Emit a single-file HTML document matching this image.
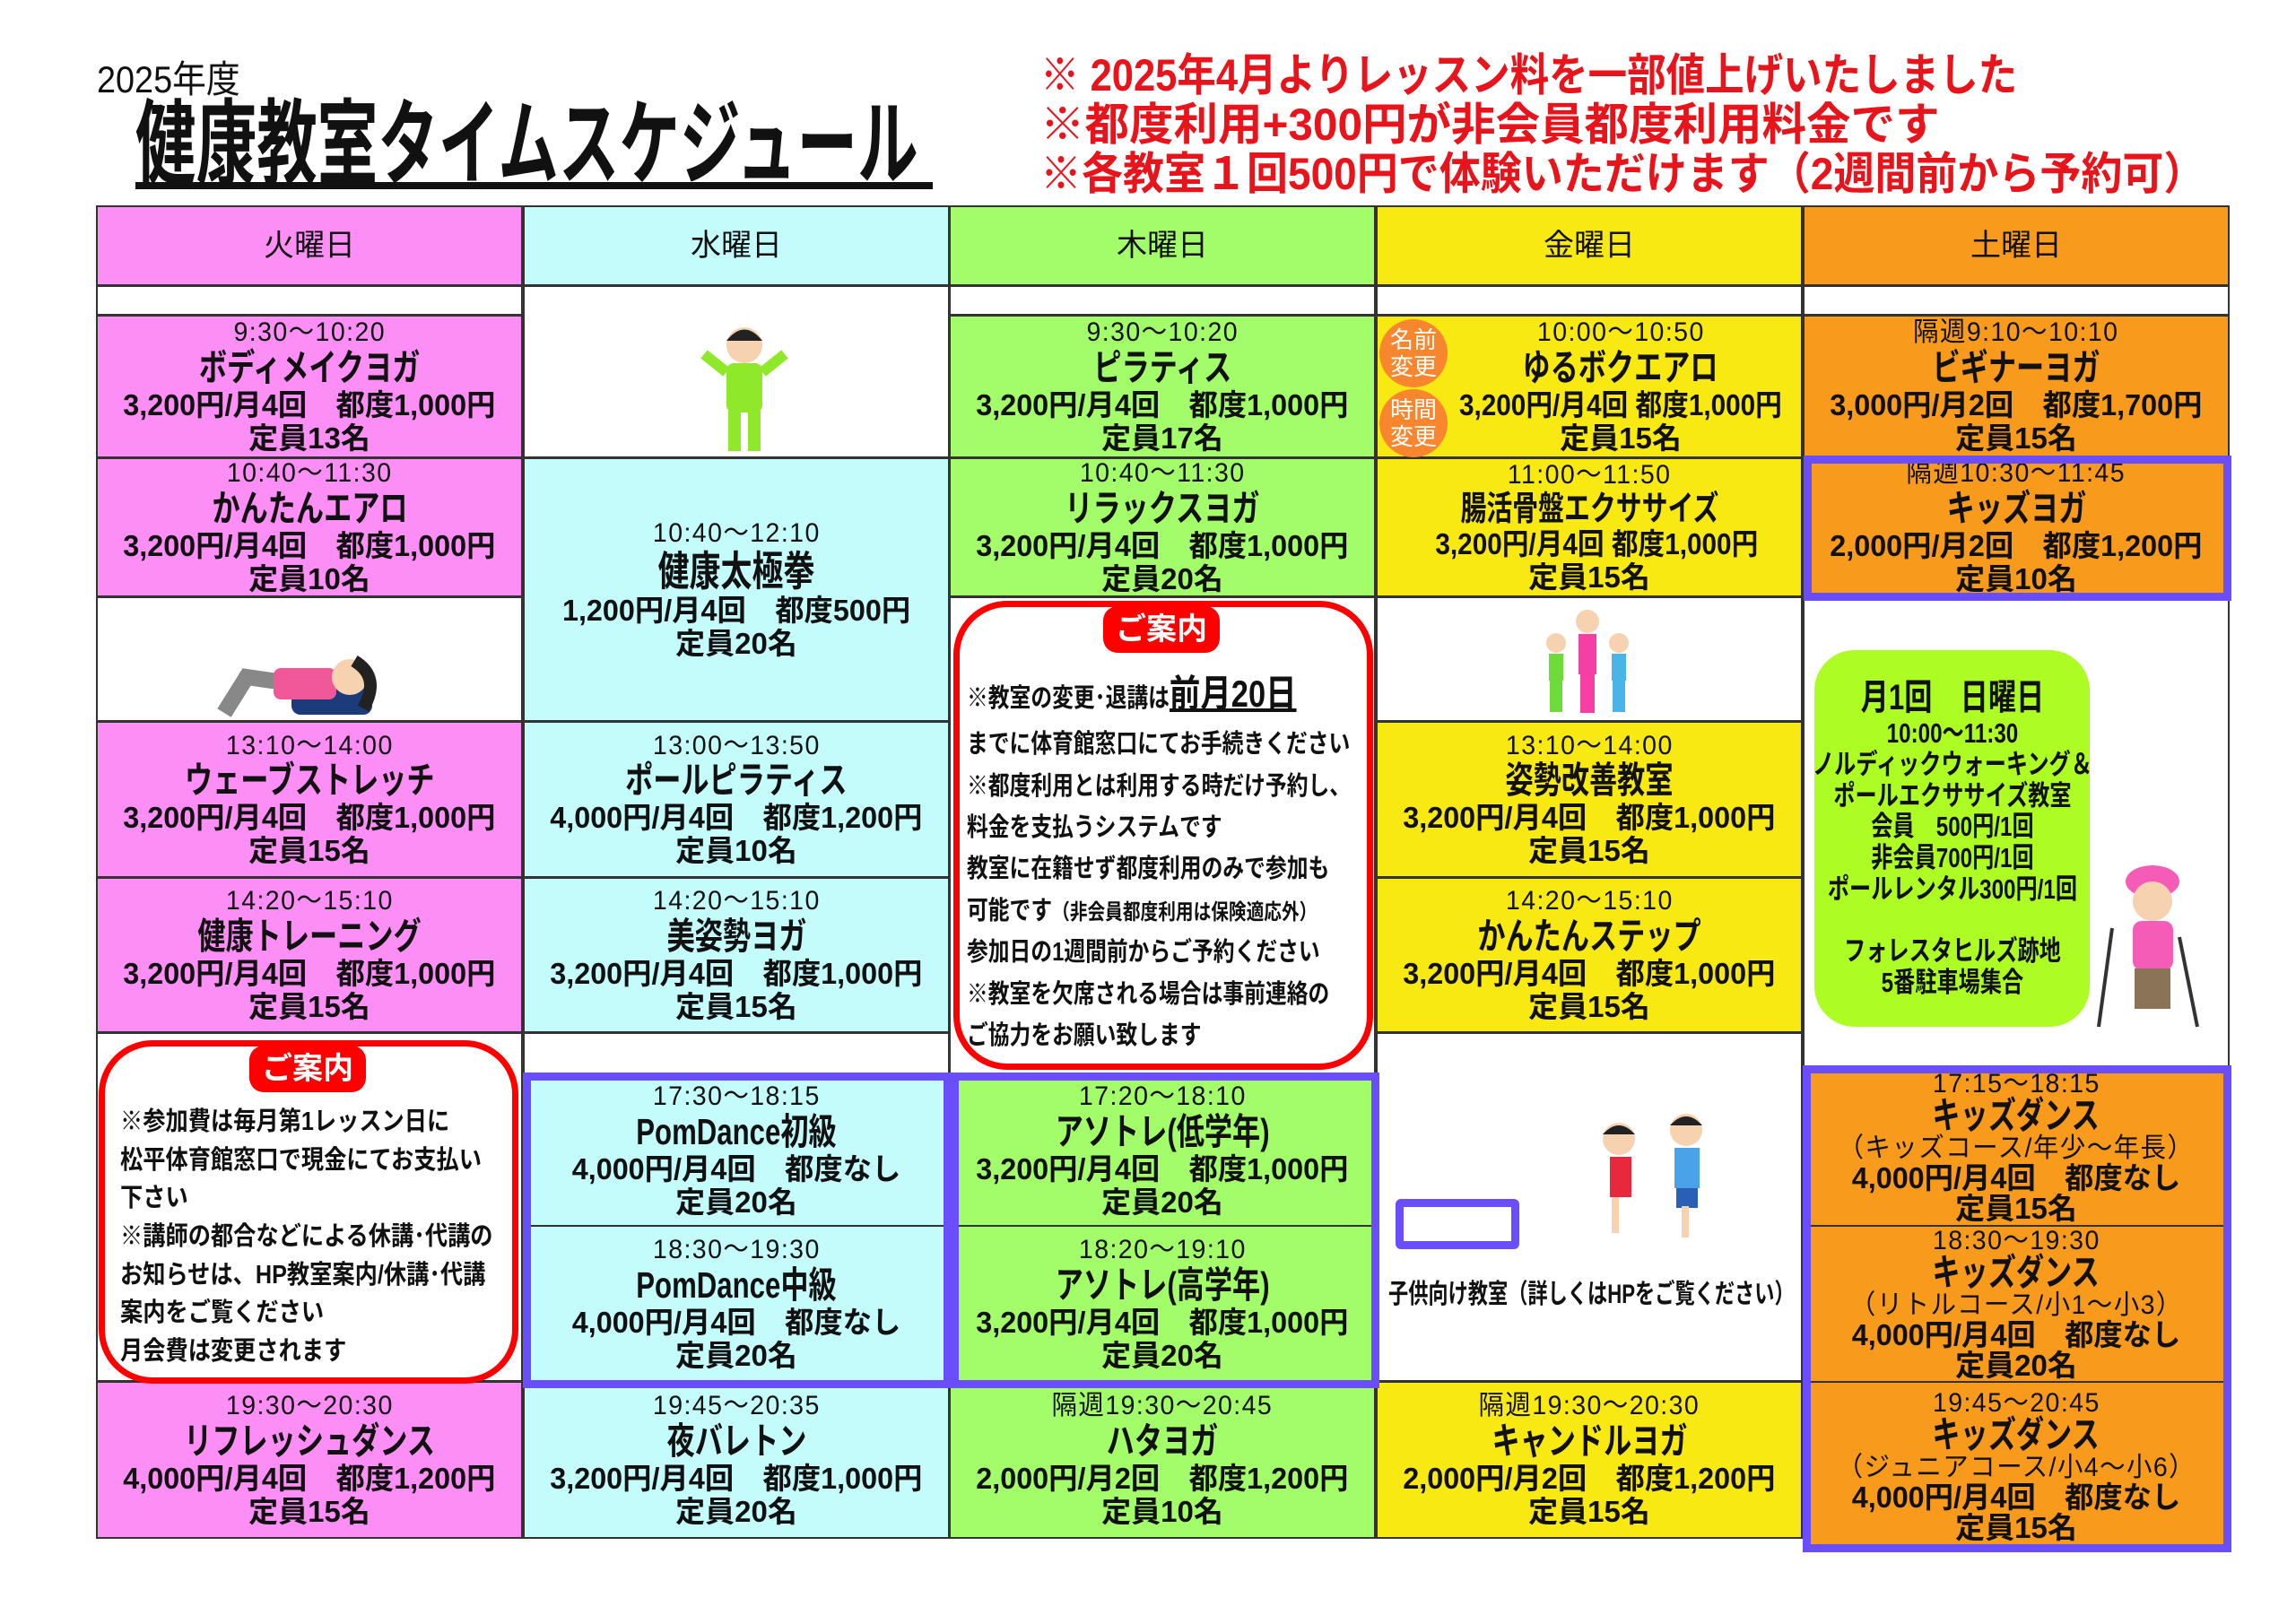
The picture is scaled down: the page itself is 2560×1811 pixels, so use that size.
<!DOCTYPE html>
<html><head><meta charset="utf-8"><style>
*{margin:0;padding:0;box-sizing:border-box}
body{width:2560px;height:1811px;background:#fff;position:relative;overflow:hidden;font-family:"Liberation Sans","Noto Sans CJK JP",sans-serif;color:#111}
.a{position:absolute}
.c{position:absolute;display:flex;flex-direction:column;justify-content:center;align-items:center;border:2px solid #333;text-align:center;line-height:1.12;overflow:hidden}
.s{white-space:nowrap;display:flex;flex-direction:column;align-items:center}
.s span{display:inline-block;white-space:nowrap}
.tm{font-size:30px;transform:scaleX(.95);letter-spacing:1.5px}
.nm{font-size:41px;font-weight:bold;transform:scaleX(.76)}
.pr{font-size:33px;font-weight:bold;transform:scaleX(.98)}
.cp{font-size:33px;font-weight:bold;transform:scaleX(1)}
.pk{background:#fd8ef6}.cy{background:#c4fcfc}.gr{background:#a3fd6b}.ye{background:#f8e912}.or{background:#f89b1c}.wh{background:#fff}
.hd{font-size:34px}
.pb{position:absolute;border:9px solid #6a4dfb}
.red{position:absolute;border:7px solid #f00;border-radius:60px;background:#fff}
.lbl{position:absolute;background:#f00;color:#fff;font-size:34px;border-radius:16px;text-align:center;font-weight:bold}
.nt{position:absolute;font-size:29px;line-height:1.6;white-space:nowrap;transform-origin:left top;transform:scaleX(.82);font-weight:bold}
.rl{position:absolute;left:1160px;color:#e8141c;font-size:50px;font-weight:bold;white-space:nowrap;transform-origin:left}
</style></head><body>
<div class="a" style="left:108px;top:55px;font-size:42px;transform:scaleX(.9);transform-origin:left">2025年度</div>
<div class="a" style="left:151px;top:110px;font-size:104px;font-weight:bold;white-space:nowrap;transform:scaleX(.65);transform-origin:left;line-height:104px">健康教室タイムスケジュール</div>
<div class="a" style="left:151px;top:203px;width:889px;height:8px;background:#111"></div>
<div class="rl" style="top:44px;transform:scaleX(.87)">※ 2025年4月よりレッスン料を一部値上げいたしました</div>
<div class="rl" style="top:99px;transform:scaleX(.99)">※都度利用+300円が非会員都度利用料金です</div>
<div class="rl" style="top:154px;transform:scaleX(.92)">※各教室１回500円で体験いただけます（2週間前から予約可）</div>

<!-- headers -->
<div class="c pk hd" style="left:107px;top:229px;width:476px;height:90px">火曜日</div>
<div class="c cy hd" style="left:583px;top:229px;width:476px;height:90px">水曜日</div>
<div class="c gr hd" style="left:1058px;top:229px;width:476px;height:90px">木曜日</div>
<div class="c ye hd" style="left:1534px;top:229px;width:476px;height:90px">金曜日</div>
<div class="c or hd" style="left:2010px;top:229px;width:476px;height:90px">土曜日</div>
<div class="c wh" style="left:107px;top:318px;width:476px;height:34px"></div>
<div class="c wh" style="left:583px;top:318px;width:476px;height:193px"></div>
<div class="c wh" style="left:1058px;top:318px;width:476px;height:34px"></div>
<div class="c wh" style="left:1534px;top:318px;width:476px;height:34px"></div>
<div class="c wh" style="left:2010px;top:318px;width:476px;height:34px"></div>

<!-- Tue -->
<div class="c pk" style="left:107px;top:351px;width:476px;height:160px"><div class="s"><span class="tm">9:30～10:20</span><span class="nm">ボディメイクヨガ</span><span class="pr">3,200円/月4回　都度1,000円</span><span class="cp">定員13名</span></div></div>
<div class="c pk" style="left:107px;top:510px;width:476px;height:156px"><div class="s"><span class="tm">10:40～11:30</span><span class="nm">かんたんエアロ</span><span class="pr">3,200円/月4回　都度1,000円</span><span class="cp">定員10名</span></div></div>
<div class="c wh" style="left:107px;top:665px;width:476px;height:140px"></div>
<div class="c pk" style="left:107px;top:804px;width:476px;height:175px"><div class="s"><span class="tm">13:10～14:00</span><span class="nm">ウェーブストレッチ</span><span class="pr">3,200円/月4回　都度1,000円</span><span class="cp">定員15名</span></div></div>
<div class="c pk" style="left:107px;top:978px;width:476px;height:174px"><div class="s"><span class="tm">14:20～15:10</span><span class="nm">健康トレーニング</span><span class="pr">3,200円/月4回　都度1,000円</span><span class="cp">定員15名</span></div></div>
<div class="c wh" style="left:107px;top:1151px;width:476px;height:390px"></div>
<div class="c pk" style="left:107px;top:1540px;width:476px;height:176px"><div class="s"><span class="tm">19:30～20:30</span><span class="nm">リフレッシュダンス</span><span class="pr">4,000円/月4回　都度1,200円</span><span class="cp">定員15名</span></div></div>

<!-- Wed -->
<div class="c cy" style="left:583px;top:510px;width:476px;height:295px"><div class="s"><span class="tm">10:40～12:10</span><span class="nm" style="font-size:46px">健康太極拳</span><span class="pr">1,200円/月4回　都度500円</span><span class="cp">定員20名</span></div></div>
<div class="c cy" style="left:583px;top:804px;width:476px;height:175px"><div class="s"><span class="tm">13:00～13:50</span><span class="nm">ポールピラティス</span><span class="pr">4,000円/月4回　都度1,200円</span><span class="cp">定員10名</span></div></div>
<div class="c cy" style="left:583px;top:978px;width:476px;height:174px"><div class="s"><span class="tm">14:20～15:10</span><span class="nm">美姿勢ヨガ</span><span class="pr">3,200円/月4回　都度1,000円</span><span class="cp">定員15名</span></div></div>
<div class="c wh" style="left:583px;top:1151px;width:476px;height:50px"></div>
<div class="c cy" style="left:583px;top:1198px;width:476px;height:170px"><div class="s"><span class="tm">17:30～18:15</span><span class="nm">PomDance初級</span><span class="pr">4,000円/月4回　都度なし</span><span class="cp">定員20名</span></div></div>
<div class="c cy" style="left:583px;top:1366px;width:476px;height:176px"><div class="s"><span class="tm">18:30～19:30</span><span class="nm">PomDance中級</span><span class="pr">4,000円/月4回　都度なし</span><span class="cp">定員20名</span></div></div>
<div class="c cy" style="left:583px;top:1540px;width:476px;height:176px"><div class="s"><span class="tm">19:45～20:35</span><span class="nm">夜バレトン</span><span class="pr">3,200円/月4回　都度1,000円</span><span class="cp">定員20名</span></div></div>

<!-- Thu -->
<div class="c gr" style="left:1058px;top:351px;width:476px;height:160px"><div class="s"><span class="tm">9:30～10:20</span><span class="nm">ピラティス</span><span class="pr">3,200円/月4回　都度1,000円</span><span class="cp">定員17名</span></div></div>
<div class="c gr" style="left:1058px;top:510px;width:476px;height:156px"><div class="s"><span class="tm">10:40～11:30</span><span class="nm">リラックスヨガ</span><span class="pr">3,200円/月4回　都度1,000円</span><span class="cp">定員20名</span></div></div>
<div class="c wh" style="left:1058px;top:665px;width:476px;height:536px"></div>
<div class="c gr" style="left:1058px;top:1198px;width:476px;height:170px"><div class="s"><span class="tm">17:20～18:10</span><span class="nm">アソトレ(低学年)</span><span class="pr">3,200円/月4回　都度1,000円</span><span class="cp">定員20名</span></div></div>
<div class="c gr" style="left:1058px;top:1366px;width:476px;height:176px"><div class="s"><span class="tm">18:20～19:10</span><span class="nm">アソトレ(高学年)</span><span class="pr">3,200円/月4回　都度1,000円</span><span class="cp">定員20名</span></div></div>
<div class="c gr" style="left:1058px;top:1540px;width:476px;height:176px"><div class="s"><span class="tm">隔週19:30～20:45</span><span class="nm">ハタヨガ</span><span class="pr">2,000円/月2回　都度1,200円</span><span class="cp">定員10名</span></div></div>

<!-- Fri -->
<div class="c ye" style="left:1534px;top:351px;width:476px;height:160px"><div class="s" style="margin-left:70px"><span class="tm">10:00～10:50</span><span class="nm">ゆるボクエアロ</span><span class="pr" style="transform:scaleX(.9)">3,200円/月4回 都度1,000円</span><span class="cp">定員15名</span></div></div>
<div class="c ye" style="left:1534px;top:510px;width:476px;height:156px"><div class="s"><span class="tm">11:00～11:50</span><span class="nm" style="font-size:38px">腸活骨盤エクササイズ</span><span class="pr" style="transform:scaleX(.9)">&nbsp;&nbsp;3,200円/月4回 都度1,000円</span><span class="cp">定員15名</span></div></div>
<div class="c wh" style="left:1534px;top:665px;width:476px;height:140px"></div>
<div class="c ye" style="left:1534px;top:804px;width:476px;height:175px"><div class="s"><span class="tm">13:10～14:00</span><span class="nm">姿勢改善教室</span><span class="pr">3,200円/月4回　都度1,000円</span><span class="cp">定員15名</span></div></div>
<div class="c ye" style="left:1534px;top:978px;width:476px;height:174px"><div class="s"><span class="tm">14:20～15:10</span><span class="nm">かんたんステップ</span><span class="pr">3,200円/月4回　都度1,000円</span><span class="cp">定員15名</span></div></div>
<div class="c wh" style="left:1534px;top:1151px;width:476px;height:390px"></div>
<div class="c ye" style="left:1534px;top:1540px;width:476px;height:176px"><div class="s"><span class="tm">隔週19:30～20:30</span><span class="nm">キャンドルヨガ</span><span class="pr">2,000円/月2回　都度1,200円</span><span class="cp">定員15名</span></div></div>
<div class="a" style="left:1538px;top:356px;width:76px;height:76px;border-radius:50%;background:#f7862e;color:#fff;font-size:26px;line-height:30px;text-align:center;padding-top:8px">名前<br>変更</div>
<div class="a" style="left:1538px;top:434px;width:76px;height:76px;border-radius:50%;background:#f7862e;color:#fff;font-size:26px;line-height:30px;text-align:center;padding-top:8px">時間<br>変更</div>
<div class="pb" style="left:1556px;top:1337px;width:138px;height:56px;border-radius:6px"></div>
<div class="a" style="left:1548px;top:1418px;font-size:30px;white-space:nowrap;transform:scaleX(.74);transform-origin:left;font-weight:bold">子供向け教室（詳しくはHPをご覧ください）</div>

<!-- Sat -->
<div class="c or" style="left:2010px;top:351px;width:476px;height:160px"><div class="s"><span class="tm">隔週9:10～10:10</span><span class="nm">ビギナーヨガ</span><span class="pr">3,000円/月2回　都度1,700円</span><span class="cp">定員15名</span></div></div>
<div class="c or" style="left:2010px;top:510px;width:476px;height:156px"><div class="s"><span class="tm">隔週10:30～11:45</span><span class="nm">キッズヨガ</span><span class="pr">2,000円/月2回　都度1,200円</span><span class="cp">定員10名</span></div></div>
<div class="c wh" style="left:2010px;top:665px;width:476px;height:528px"></div>
<div class="c or" style="left:2010px;top:1190px;width:476px;height:178px;line-height:1.02"><div class="s"><span class="tm">17:15～18:15</span><span class="nm">キッズダンス</span><span class="tm">（キッズコース/年少～年長）</span><span class="pr">4,000円/月4回　都度なし</span><span class="cp">定員15名</span></div></div>
<div class="c or" style="left:2010px;top:1366px;width:476px;height:176px;line-height:1.02"><div class="s"><span class="tm">18:30～19:30</span><span class="nm">キッズダンス</span><span class="tm">（リトルコース/小1～小3）</span><span class="pr">4,000円/月4回　都度なし</span><span class="cp">定員20名</span></div></div>
<div class="c or" style="left:2010px;top:1540px;width:476px;height:190px;line-height:1.02"><div class="s"><span class="tm">19:45～20:45</span><span class="nm">キッズダンス</span><span class="tm">（ジュニアコース/小4～小6）</span><span class="pr">4,000円/月4回　都度なし</span><span class="cp">定員15名</span></div></div>
<div class="a" style="left:2023px;top:725px;width:307px;height:420px;background:#adfc23;border-radius:45px;display:flex;flex-direction:column;align-items:center;justify-content:center;line-height:1.12">
<div style="transform:scaleX(.78);white-space:nowrap;display:flex;flex-direction:column;align-items:center"><span style="font-size:40px;font-weight:bold">月1回　日曜日</span><span style="font-size:31px;font-weight:bold">10:00～11:30</span><span style="font-size:31px;font-weight:bold">ノルディックウォーキング＆</span><span style="font-size:31px;font-weight:bold">ポールエクササイズ教室</span><span style="font-size:31px;font-weight:bold">会員　500円/1回</span><span style="font-size:31px;font-weight:bold">非会員700円/1回</span><span style="font-size:31px;font-weight:bold">ポールレンタル300円/1回</span><span style="font-size:31px">&nbsp;</span><span style="font-size:31px;font-weight:bold">フォレスタヒルズ跡地</span><span style="font-size:31px;font-weight:bold">5番駐車場集合</span></div></div>

<!-- purple boxes -->
<div class="pb" style="left:2011px;top:508px;width:477px;height:162px"></div>
<div class="pb" style="left:583px;top:1196px;width:478px;height:352px"></div>
<div class="pb" style="left:1060px;top:1196px;width:478px;height:352px"></div>
<div class="pb" style="left:2010px;top:1188px;width:478px;height:543px"></div>

<!-- notices -->
<div class="red" style="left:1063px;top:670px;width:468px;height:523px"></div>
<div class="lbl" style="left:1230px;top:676px;width:130px;height:52px;line-height:52px">ご案内</div>
<div class="nt" style="left:1078px;top:740px"><span>※教室の変更･退講は<u style="font-size:42px;text-decoration-thickness:4px">前月20日</u></span><br>までに体育館窓口にてお手続きください<br>※都度利用とは利用する時だけ予約し、<br>料金を支払うシステムです<br>教室に在籍せず都度利用のみで参加も<br>可能です<span style="font-size:24px">（非会員都度利用は保険適応外）</span><br>参加日の1週間前からご予約ください<br>※教室を欠席される場合は事前連絡の<br>ご協力をお願い致します</div>
<div class="red" style="left:110px;top:1160px;width:468px;height:383px"></div>
<div class="lbl" style="left:278px;top:1166px;width:130px;height:52px;line-height:52px">ご案内</div>
<div class="nt" style="left:134px;top:1230px;line-height:1.47;transform:scaleX(.87)">※参加費は毎月第1レッスン日に<br>松平体育館窓口で現金にてお支払い<br>下さい<br>※講師の都合などによる休講･代講の<br>お知らせは、HP教室案内/休講･代講<br>案内をご覧ください<br>月会費は変更されます</div>

<!-- simple illustrations -->
<svg class="a" style="left:760px;top:360px" width="140" height="150"><circle cx="70" cy="25" r="20" fill="#f6d2b0"/><path d="M50 20 Q70 -5 90 20" fill="#222"/><rect x="50" y="45" width="40" height="55" rx="8" fill="#8fe82a"/><rect x="52" y="98" width="14" height="45" fill="#8fe82a"/><rect x="74" y="98" width="14" height="45" fill="#8fe82a"/><path d="M50 55 L25 35 M90 55 L115 35" stroke="#8fe82a" stroke-width="12"/></svg>
<svg class="a" style="left:230px;top:725px" width="210" height="75"><rect x="95" y="40" width="90" height="32" rx="10" fill="#1b3b7a"/><path d="M20 70 L45 30 L80 35" stroke="#888" stroke-width="18" fill="none"/><rect x="75" y="20" width="70" height="35" rx="8" fill="#f0589a"/><circle cx="160" cy="30" r="20" fill="#f6d2b0"/><path d="M165 12 Q195 30 175 65" stroke="#222" stroke-width="14" fill="none"/></svg>
<svg class="a" style="left:1700px;top:675px" width="140" height="125"><g fill="#f6d2b0"><circle cx="70" cy="18" r="13"/><circle cx="35" cy="42" r="11"/><circle cx="105" cy="42" r="11"/></g><rect x="60" y="32" width="20" height="45" fill="#f63fa5"/><rect x="62" y="75" width="16" height="45" fill="#f63fa5"/><rect x="27" y="54" width="16" height="30" fill="#6ddc3a"/><rect x="97" y="54" width="16" height="30" fill="#49b4e8"/><rect x="28" y="84" width="14" height="35" fill="#6ddc3a"/><rect x="98" y="84" width="14" height="35" fill="#49b4e8"/></svg>
<svg class="a" style="left:1765px;top:1235px" width="180" height="150"><circle cx="40" cy="35" r="18" fill="#f6d2b0"/><path d="M22 30 Q40 10 58 30" fill="#222"/><rect x="30" y="55" width="24" height="45" fill="#e8283c"/><rect x="32" y="100" width="8" height="40" fill="#f6d2b0"/><circle cx="115" cy="25" r="18" fill="#f6d2b0"/><path d="M97 20 Q115 0 133 20" fill="#222"/><rect x="102" y="45" width="28" height="45" fill="#4aa3e8"/><rect x="104" y="90" width="24" height="22" fill="#2a5fb8"/><rect x="110" y="110" width="8" height="35" fill="#f6d2b0"/></svg>
<svg class="a" style="left:2320px;top:955px" width="140" height="200"><path d="M20 190 L35 80 M130 190 L110 90" stroke="#333" stroke-width="4"/><ellipse cx="80" cy="28" rx="30" ry="18" fill="#f55cb8"/><circle cx="80" cy="50" r="22" fill="#f6d2b0"/><rect x="58" y="72" width="45" height="55" rx="10" fill="#f55cb8"/><rect x="60" y="125" width="40" height="45" fill="#8b7358"/></svg>
</body></html>
